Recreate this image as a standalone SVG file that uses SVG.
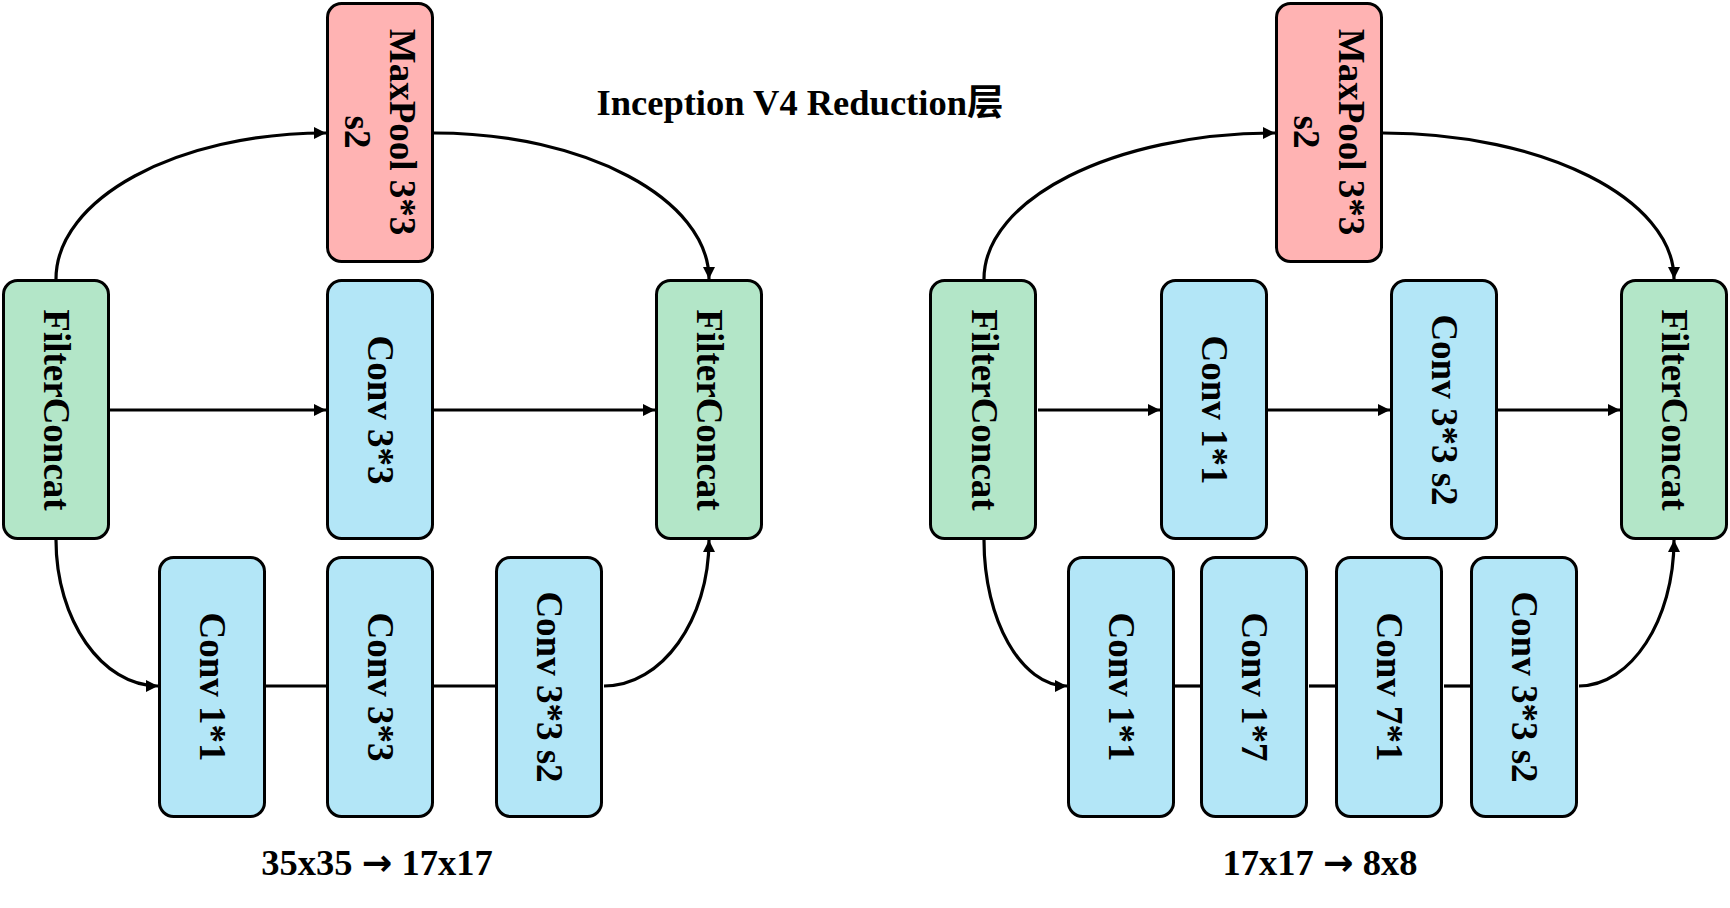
<svg xmlns="http://www.w3.org/2000/svg" width="1730" height="908" viewBox="0 0 1730 908">
<style>
.box{stroke:#000;stroke-width:3}
.g{fill:#B3E6C8}
.b{fill:#B3E6F7}
.r{fill:#FFB3B3}
.t{font-family:"Liberation Serif","Times New Roman",serif;font-weight:bold;font-size:37px;text-anchor:middle;fill:#000}
.cap{font-family:"Liberation Serif","Noto Sans CJK SC",serif;font-weight:bold;font-size:36.5px;text-anchor:middle;fill:#000}
.arr{font-family:"DejaVu Sans",sans-serif;font-weight:bold}
.c{fill:none;stroke:#000;stroke-width:3.2}
</style>
<defs>
<marker id="ah" markerUnits="userSpaceOnUse" markerWidth="12" markerHeight="12" viewBox="0 0 12 12" refX="12" refY="6" orient="auto">
<path d="M0,0 L12,6 L0,12 z" fill="#000"/>
</marker>
</defs>
<rect width="1730" height="908" fill="#fff"/>
<text class="cap" x="800" y="115">Inception V4 Reduction层</text>

<g id="connectors">
<path class="c" d="M56,279 C56,199 176,133 326,133" marker-end="url(#ah)"/>
<path class="c" d="M434,133 C585,133 709,199 709,279" marker-end="url(#ah)"/>
<path class="c" d="M110,410 L326,410" marker-end="url(#ah)"/>
<path class="c" d="M434,410 L655,410" marker-end="url(#ah)"/>
<path class="c" d="M56,540 C56,620 102,686 158,686" marker-end="url(#ah)"/>
<path class="c" d="M266,686 L326,686"/>
<path class="c" d="M434,686 L495,686"/>
<path class="c" d="M604,686 C662,686 709,620 709,540" marker-end="url(#ah)"/>

<path class="c" d="M984,279 C984,199 1114,133 1275,133" marker-end="url(#ah)"/>
<path class="c" d="M1383,133 C1544,133 1674,199 1674,279" marker-end="url(#ah)"/>
<path class="c" d="M1038,410 L1160,410" marker-end="url(#ah)"/>
<path class="c" d="M1268,410 L1390,410" marker-end="url(#ah)"/>
<path class="c" d="M1498,410 L1620,410" marker-end="url(#ah)"/>
<path class="c" d="M984,540 C984,620 1021,686 1067,686" marker-end="url(#ah)"/>
<path class="c" d="M1175,686 L1200,686"/>
<path class="c" d="M1309,686 L1335,686"/>
<path class="c" d="M1444,686 L1470,686"/>
<path class="c" d="M1579,686 C1631,686 1674,620 1674,540" marker-end="url(#ah)"/>
</g>

<!-- Left diagram -->
<g id="L_maxpool">
<rect class="box r" x="327.5" y="3.5" width="105" height="258" rx="14"/>
<text class="t" transform="rotate(90 380 132)"><tspan x="380" y="122">MaxPool 3*3</tspan><tspan x="380" y="167">s2</tspan></text>
</g>
<g id="L_fc_in">
<rect class="box g" x="3.5" y="280.5" width="105" height="258" rx="14"/>
<text class="t" transform="rotate(90 56 410)" x="56" y="422">FilterConcat</text>
</g>
<g id="L_conv33_mid">
<rect class="box b" x="327.5" y="280.5" width="105" height="258" rx="14"/>
<text class="t" transform="rotate(90 380 410)" x="380" y="422">Conv 3*3</text>
</g>
<g id="L_fc_out">
<rect class="box g" x="656.5" y="280.5" width="105" height="258" rx="14"/>
<text class="t" transform="rotate(90 709 410)" x="709" y="422">FilterConcat</text>
</g>
<g id="L_conv11">
<rect class="box b" x="159.5" y="557.5" width="105" height="259" rx="14"/>
<text class="t" transform="rotate(90 212 687)" x="212" y="699">Conv 1*1</text>
</g>
<g id="L_conv33">
<rect class="box b" x="327.5" y="557.5" width="105" height="259" rx="14"/>
<text class="t" transform="rotate(90 380 687)" x="380" y="699">Conv 3*3</text>
</g>
<g id="L_conv33s2">
<rect class="box b" x="496.5" y="557.5" width="105" height="259" rx="14"/>
<text class="t" transform="rotate(90 549 687)" x="549" y="699">Conv 3*3 s2</text>
</g>
<text class="cap" x="377" y="875" font-size="35">35x35 <tspan class="arr">→</tspan> 17x17</text>

<!-- Right diagram -->
<g id="R_maxpool">
<rect class="box r" x="1276.5" y="3.5" width="105" height="258" rx="14"/>
<text class="t" transform="rotate(90 1329 132)"><tspan x="1329" y="122">MaxPool 3*3</tspan><tspan x="1329" y="167">s2</tspan></text>
</g>
<g id="R_fc_in">
<rect class="box g" x="930.5" y="280.5" width="105" height="258" rx="14"/>
<text class="t" transform="rotate(90 984 410)" x="984" y="422">FilterConcat</text>
</g>
<g id="R_conv11_mid">
<rect class="box b" x="1161.5" y="280.5" width="105" height="258" rx="14"/>
<text class="t" transform="rotate(90 1214 410)" x="1214" y="422">Conv 1*1</text>
</g>
<g id="R_conv33s2_mid">
<rect class="box b" x="1391.5" y="280.5" width="105" height="258" rx="14"/>
<text class="t" transform="rotate(90 1444 410)" x="1444" y="422">Conv 3*3 s2</text>
</g>
<g id="R_fc_out">
<rect class="box g" x="1621.5" y="280.5" width="105" height="258" rx="14"/>
<text class="t" transform="rotate(90 1674 410)" x="1674" y="422">FilterConcat</text>
</g>
<g id="R_conv11">
<rect class="box b" x="1068.5" y="557.5" width="105" height="259" rx="14"/>
<text class="t" transform="rotate(90 1121 687)" x="1121" y="699">Conv 1*1</text>
</g>
<g id="R_conv17">
<rect class="box b" x="1201.5" y="557.5" width="105" height="259" rx="14"/>
<text class="t" transform="rotate(90 1254 687)" x="1254" y="699">Conv 1*7</text>
</g>
<g id="R_conv71">
<rect class="box b" x="1336.5" y="557.5" width="105" height="259" rx="14"/>
<text class="t" transform="rotate(90 1389 687)" x="1389" y="699">Conv 7*1</text>
</g>
<g id="R_conv33s2">
<rect class="box b" x="1471.5" y="557.5" width="105" height="259" rx="14"/>
<text class="t" transform="rotate(90 1524 687)" x="1524" y="699">Conv 3*3 s2</text>
</g>
<text class="cap" x="1320" y="875" font-size="35">17x17 <tspan class="arr">→</tspan> 8x8</text>
</svg>
